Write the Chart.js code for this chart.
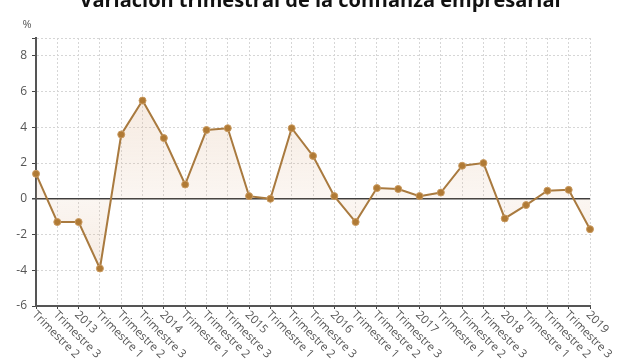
<!DOCTYPE html>
<html>
<head>
<meta charset="utf-8">
<script src="https://cdn.jsdelivr.net/npm/chart.js@4.4.1/dist/chart.umd.min.js"></script>
<style>
  html, body { margin: 0; padding: 0; background: #ffffff; }
  #wrap { position: relative; width: 640px; height: 360px; }
</style>
</head>
<body>
<div id="wrap"><canvas id="lineChart" width="640" height="360"></canvas></div>
<script>
const chartTitle = 'Variación trimestral de la confianza empresarial';
const unitLabel = '%';

const quarterLabels = [
  'Trimestre 2', 'Trimestre 3',
  '2013', 'Trimestre 1', 'Trimestre 2', 'Trimestre 3',
  '2014', 'Trimestre 1', 'Trimestre 2', 'Trimestre 3',
  '2015', 'Trimestre 1', 'Trimestre 2', 'Trimestre 3',
  '2016', 'Trimestre 1', 'Trimestre 2', 'Trimestre 3',
  '2017', 'Trimestre 1', 'Trimestre 2', 'Trimestre 3',
  '2018', 'Trimestre 1', 'Trimestre 2', 'Trimestre 3',
  '2019'
];

const confidenceChange = [
  1.4, -1.3,
  -1.3, -3.9, 3.6, 5.5,
  3.4, 0.8, 3.85, 3.95,
  0.15, 0.0, 3.95, 2.4,
  0.15, -1.3, 0.6, 0.55,
  0.15, 0.35, 1.85, 2.0,
  -1.1, -0.35, 0.45, 0.5,
  -1.7
];

const yTickValues = [-6, -4, -2, 0, 2, 4, 6, 8];
const yMin = -6;
const yMax = 9;

const FONT = "'Open Sans', 'Noto Sans', sans-serif";
const lineColor = '#a97a3f';
const pointColor = '#b07a35';

// title (cut at top), % label and rotated x labels
const extrasPlugin = {
  id: 'extras',
  afterDraw(chart) {
    const c = chart.ctx;
    const x = chart.scales.x;
    c.save();
    c.fillStyle = '#111';
    c.font = `bold 20px ${FONT}`;
    c.textAlign = 'center';
    c.textBaseline = 'alphabetic';
    c.fillText(chartTitle, 320, 7);

    c.fillStyle = '#555';
    c.font = `11px ${FONT}`;
    c.fillText(unitLabel, 27, 28);

    c.font = `11.5px ${FONT}`;
    c.textAlign = 'left';
    c.textBaseline = 'middle';
    quarterLabels.forEach((lab, i) => {
      const px = x.getPixelForValue(i);
      c.save();
      c.translate(px - 2, x.top + 7);
      c.rotate(Math.PI / 4);
      c.fillText(lab, 0, 0);
      c.restore();
    });
    c.restore();
  }
};

window.addEventListener('DOMContentLoaded', () => {
  const ctx = document.getElementById('lineChart').getContext('2d');

  new Chart(ctx, {
    type: 'line',
    data: {
      labels: quarterLabels,
      datasets: [{
        data: confidenceChange,
        borderColor: lineColor,
        borderWidth: 2,
        tension: 0,
        pointRadius: 3.5,
        pointBackgroundColor: pointColor,
        pointBorderColor: '#c99a60',
        pointBorderWidth: 1,
        fill: 'origin',
        backgroundColor: function (context) {
          const chart = context.chart;
          const area = chart.chartArea;
          if (!area) return 'rgba(215,165,120,0.15)';
          const y = chart.scales.y;
          const g = chart.ctx.createLinearGradient(0, y.getPixelForValue(6), 0, y.getPixelForValue(-4));
          const zeroStop = (y.getPixelForValue(0) - y.getPixelForValue(6)) / (y.getPixelForValue(-4) - y.getPixelForValue(6));
          g.addColorStop(0, 'rgba(222,180,145,0.28)');
          g.addColorStop(zeroStop, 'rgba(222,180,145,0.12)');
          g.addColorStop(1, 'rgba(222,180,145,0.26)');
          return g;
        }
      }]
    },
    options: {
      responsive: false,
      animation: false,
      layout: { padding: { top: 38, right: 50, left: 0, bottom: 0 } },
      plugins: {
        legend: { display: false },
        tooltip: { enabled: false }
      },
      scales: {
        x: {
          offset: false,
          afterFit: s => { s.height = 54; },
          ticks: { display: false },
          grid: {
            color: '#d6d6d6',
            lineWidth: 1,
            tickColor: '#444',
            tickLength: 3
          },
          border: { display: true, color: '#555', width: 2, dash: [2, 2] }
        },
        y: {
          min: yMin,
          max: yMax,
          afterFit: s => { s.width = 36; },
          afterBuildTicks: s => {
            s.ticks = yTickValues.concat([yMax]).map(v => ({ value: v }));
          },
          ticks: {
            padding: 5,
            color: '#555',
            font: { size: 12, family: FONT },
            callback: v => (v === yMax ? '' : String(v))
          },
          grid: {
            color: c => (c.tick && c.tick.value === 0 ? '#3a3a3a' : '#d6d6d6'),
            lineWidth: c => (c.tick && c.tick.value === 0 ? 1.5 : 1),
            tickColor: '#444',
            tickLength: 4
          },
          border: {
            display: true,
            color: '#555',
            width: 2,
            dash: c => (c.tick && c.tick.value === 0 ? [] : [2, 2])
          }
        }
      }
    },
    plugins: [extrasPlugin]
  });
});
</script>
</body>
</html>
